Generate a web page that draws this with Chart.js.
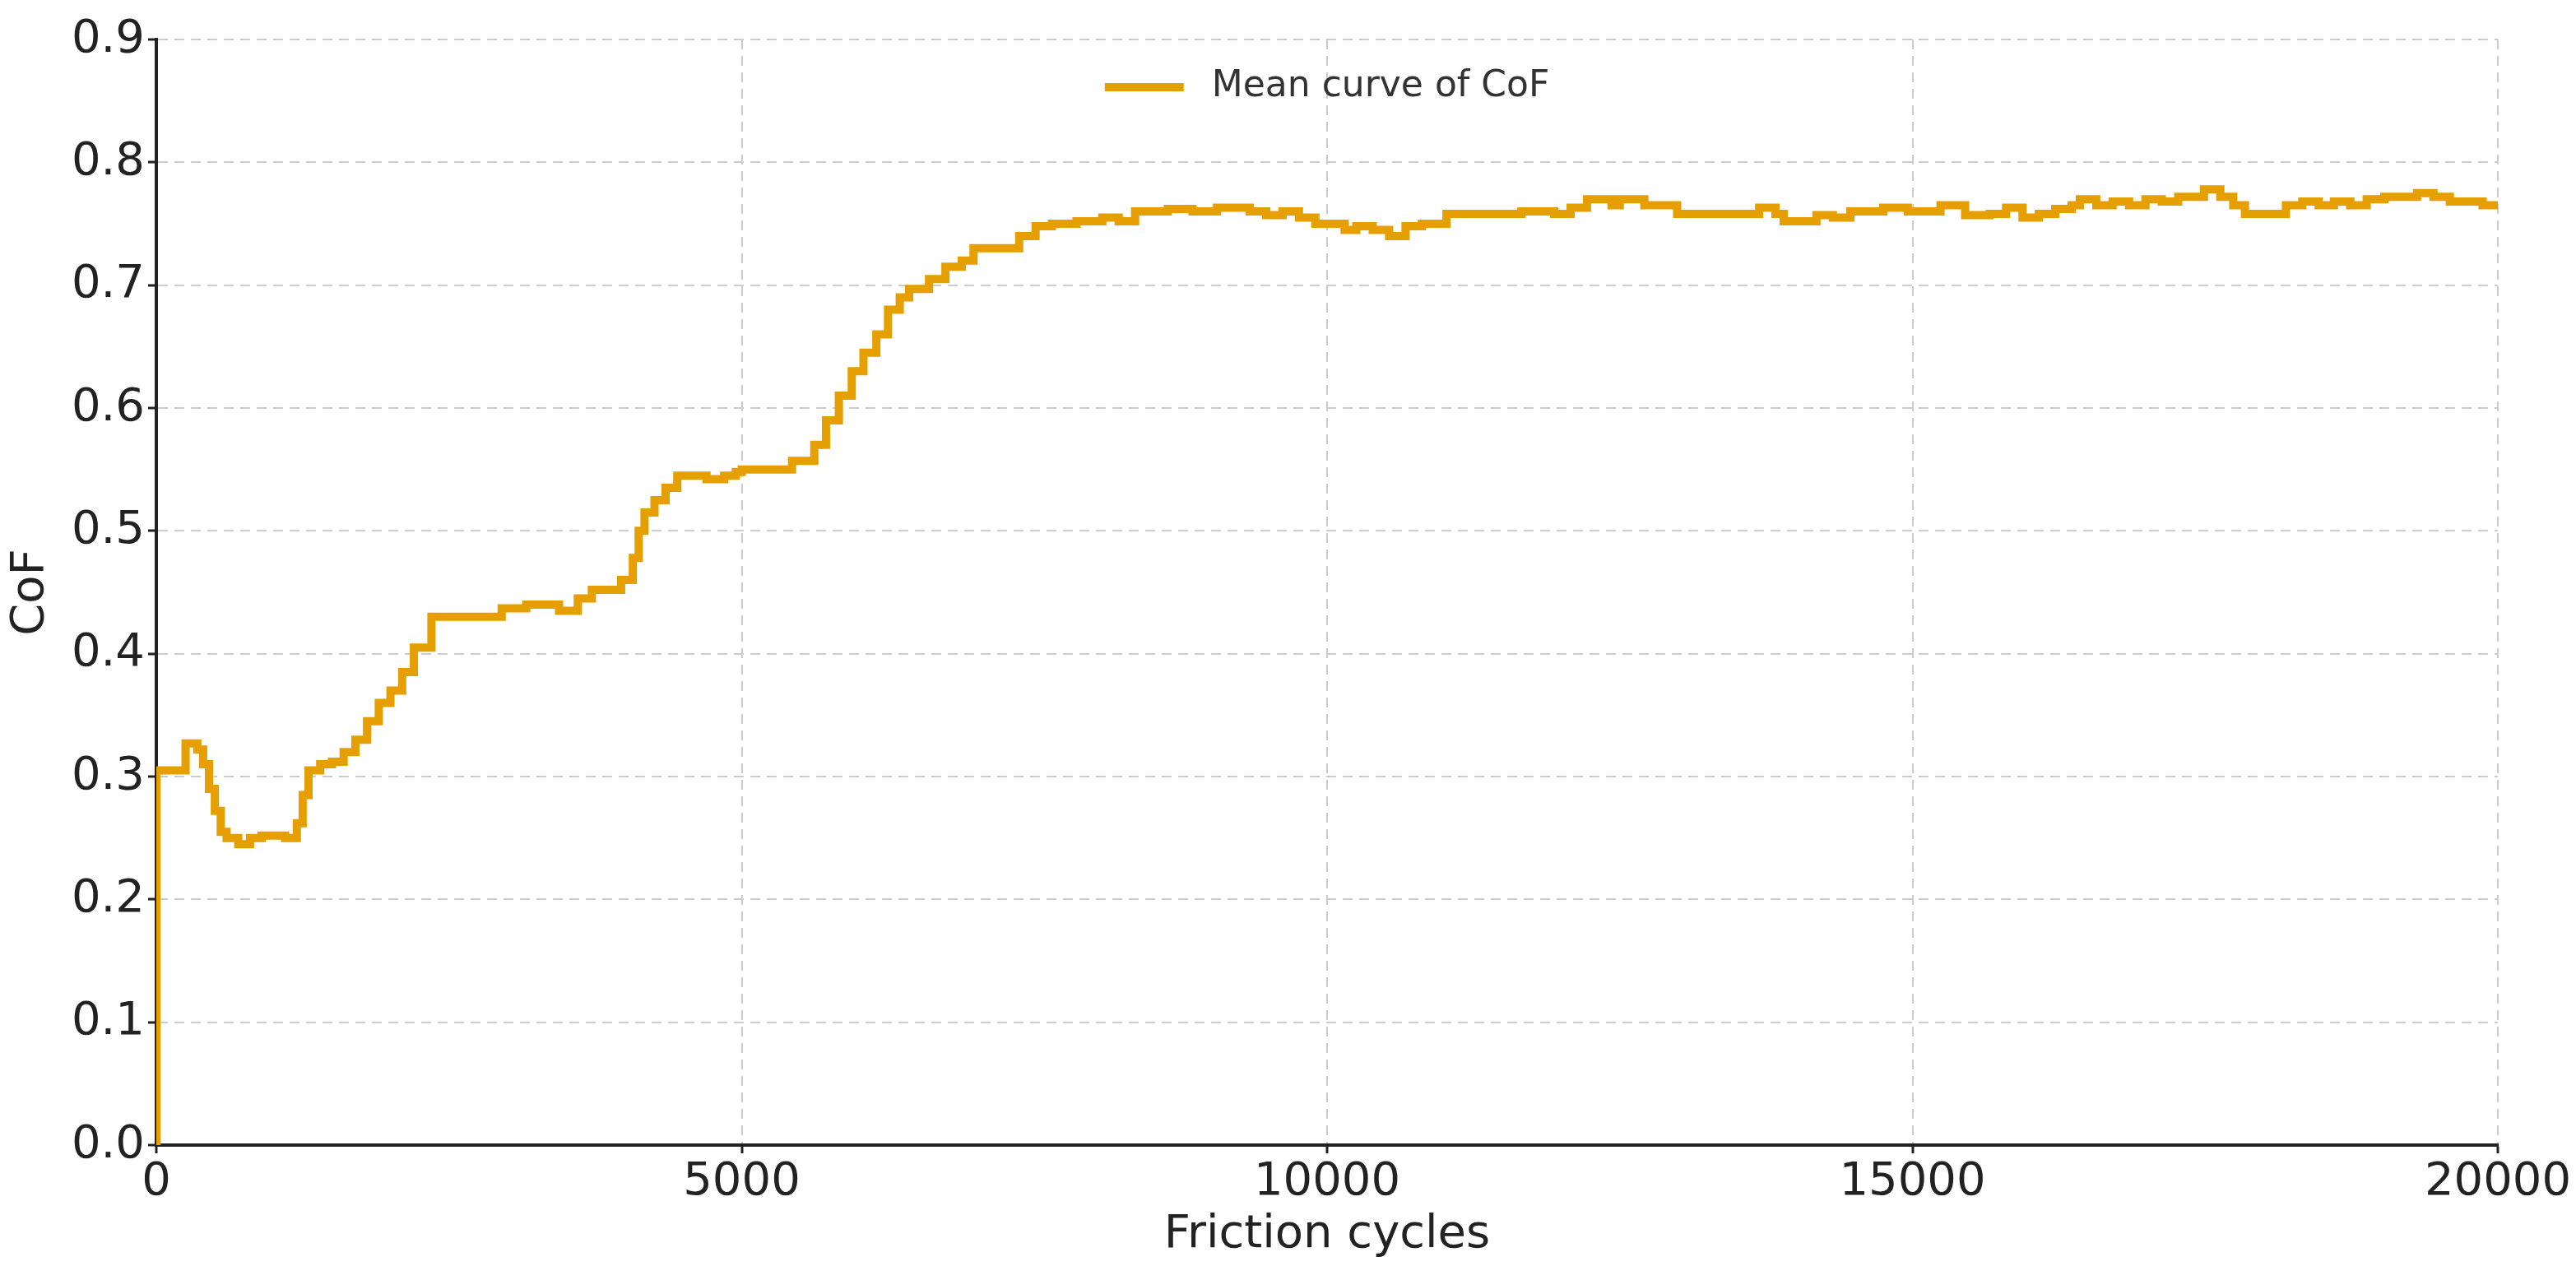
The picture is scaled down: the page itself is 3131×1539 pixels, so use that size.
<!DOCTYPE html>
<html><head><meta charset="utf-8">
<script src="https://cdn.jsdelivr.net/npm/chart.js@4/dist/chart.umd.min.js"></script>
<style>html,body{margin:0;padding:0;background:#fff}#w{width:3131px;height:1539px}</style>
</head><body><div id="w"><canvas id="c" width="3131" height="1539"></canvas></div>
<script>
const cycles = [0,1,250,350,400,450,500,550,600,700,800,900,1100,1200,1250,1300,1400,1500,1600,1700,1800,1900,2000,2100,2200,2350,2950,3160,3440,3600,3720,3970,4070,4120,4170,4255,4350,4450,4700,4850,4950,5000,5430,5620,5720,5830,5940,6040,6150,6250,6350,6430,6600,6740,6880,6980,7370,7510,7650,7860,8080,8220,8360,8640,8850,9060,9340,9480,9620,9760,9900,10150,10250,10390,10530,10670,10810,11020,11660,11940,12080,12220,12430,12500,12570,12710,12990,13690,13830,13900,14180,14320,14470,14750,14960,15240,15450,15660,15800,15940,16080,16220,16360,16430,16570,16710,16850,16990,17130,17270,17490,17630,17740,17840,18190,18330,18470,18600,18740,18880,19030,19310,19450,19590,19870,20000];
const cof = [0,0.305,0.327,0.322,0.31,0.29,0.272,0.255,0.25,0.245,0.25,0.252,0.25,0.262,0.285,0.305,0.31,0.312,0.32,0.33,0.345,0.36,0.37,0.385,0.405,0.43,0.437,0.44,0.435,0.445,0.452,0.46,0.478,0.5,0.515,0.525,0.535,0.545,0.542,0.545,0.548,0.55,0.557,0.57,0.59,0.61,0.63,0.645,0.66,0.68,0.69,0.697,0.705,0.715,0.72,0.73,0.74,0.748,0.75,0.752,0.755,0.752,0.76,0.762,0.76,0.763,0.76,0.757,0.76,0.755,0.75,0.745,0.748,0.745,0.74,0.748,0.75,0.758,0.76,0.758,0.763,0.77,0.765,0.77,0.77,0.765,0.758,0.763,0.758,0.752,0.757,0.755,0.76,0.763,0.76,0.765,0.757,0.758,0.763,0.755,0.758,0.762,0.765,0.77,0.765,0.768,0.765,0.77,0.768,0.772,0.778,0.772,0.765,0.758,0.765,0.768,0.765,0.768,0.765,0.77,0.772,0.775,0.772,0.768,0.765,0.765];
const xTicks = [0,5000,10000,15000,20000];
const yTicks = [0,0.1,0.2,0.3,0.4,0.5,0.6,0.7,0.8,0.9];
const seriesName = 'Mean curve of CoF';

const pts = cycles.map((x,i)=>({x:x,y:cof[i]}));
const font = {family:'DejaVu Sans', size:56};
const gridOpts = {color:'#cccccc',lineWidth:2,tickColor:'#222',tickLength:10,tickBorderDash:[],tickWidth:3};
const borderOpts = {display:true,color:'#222',width:4,dash:[12,8]};
const legendPlugin = {
  id:'topLegend',
  afterDraw(chart){
    const ctx = chart.ctx, ds = chart.data.datasets[0];
    const cx = (chart.chartArea.left + chart.chartArea.right)/2;
    const y = chart.chartArea.top + 58;
    ctx.save();
    ctx.font = '44px "DejaVu Sans"';
    const tw = ctx.measureText(ds.label).width;
    const total = 96 + 34 + tw;
    const x0 = cx - total/2;
    ctx.strokeStyle = ds.borderColor; ctx.lineWidth = 10; ctx.lineCap='butt';
    ctx.beginPath(); ctx.moveTo(x0, y); ctx.lineTo(x0+96, y); ctx.stroke();
    ctx.fillStyle = '#333'; ctx.textBaseline = 'middle'; ctx.textAlign='left';
    ctx.fillText(ds.label, x0+96+34, y);
    ctx.restore();
  }
};
new Chart(document.getElementById('c'), {
  type:'line',
  data:{datasets:[{label:seriesName,data:pts,borderColor:'#E69F00',backgroundColor:'#E69F00',borderWidth:10,pointRadius:0,stepped:'before',fill:false}]},
  options:{
    responsive:false, animation:false, devicePixelRatio:1,
    layout:{padding:{top:48,right:95,left:0,bottom:0}},
    plugins:{legend:{display:false},tooltip:{enabled:false}},
    scales:{
      x:{type:'linear',min:0,max:20000,
        afterBuildTicks:s=>{s.ticks=xTicks.map(v=>({value:v}));},
        afterFit:s=>{s.height=147;},
        ticks:{font:font,color:'#222',padding:2,maxRotation:0,callback:v=>String(v)},
        grid:gridOpts, border:borderOpts,
        title:{display:true,text:'Friction cycles',font:font,color:'#222',padding:{top:0}}
      },
      y:{min:0,max:0.9,
        afterBuildTicks:s=>{s.ticks=yTicks.map(v=>({value:v}));},
        afterFit:s=>{s.width=190;},
        ticks:{font:font,color:'#222',padding:4,callback:v=>v.toFixed(1)},
        grid:gridOpts, border:borderOpts,
        title:{display:true,text:'CoF',font:font,color:'#222',padding:{bottom:4}}
      }
    }
  },
  plugins:[legendPlugin]
});
</script></body></html>
